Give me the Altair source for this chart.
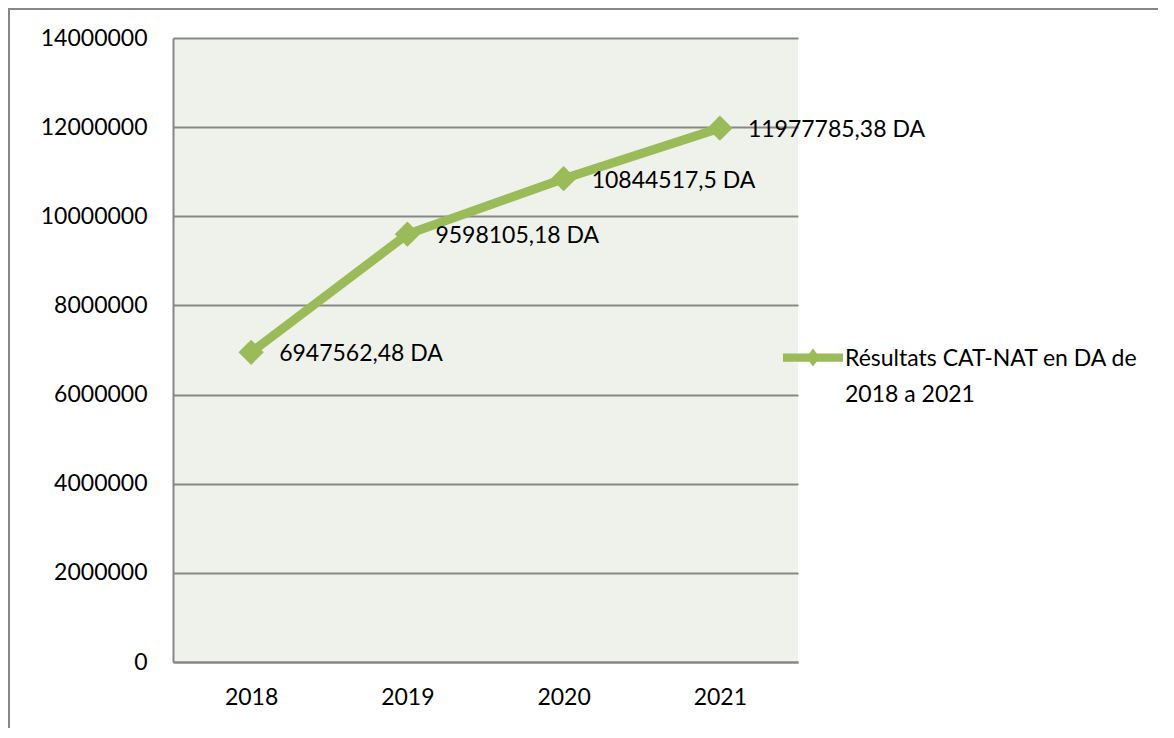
import altair as alt
import pandas as pd

years = ["2018", "2019", "2020", "2021"]
values = [6947562.48, 9598105.18, 10844517.5, 11977785.38]
value_labels = ["6947562,48 DA", "9598105,18 DA", "10844517,5 DA", "11977785,38 DA"]
series_name = "Résultats CAT-NAT en DA de 2018 a 2021"
legend_lines = ["Résultats CAT-NAT en DA de", "2018 a 2021"]
y_ticks = [0, 2000000, 4000000, 6000000, 8000000, 10000000, 12000000, 14000000]

df = pd.DataFrame({"year": years, "value": values, "label": value_labels,
                   "series": [series_name] * len(years)})

FONT = "Lato"
GREEN = "#9BBB59"
GRID = "#878787"
FS = 23

x_enc = alt.X("year:O", scale=alt.Scale(type="point", padding=0.5),
              axis=alt.Axis(title=None, labelAngle=0, ticks=False, grid=False,
                            domainColor=GRID, domainWidth=2, labelPadding=24,
                            labelFontSize=FS, labelFont=FONT, labelColor="black"))
y_enc = alt.Y("value:Q", scale=alt.Scale(domain=[0, 14000000], nice=False, zero=True),
              axis=alt.Axis(title=None, values=y_ticks, format="d", ticks=False,
                            grid=True, gridColor=GRID, gridWidth=2,
                            domainColor=GRID, domainWidth=2, labelPadding=26,
                            labelFontSize=FS, labelFont=FONT, labelColor="black"))

base = alt.Chart(df)

line = base.mark_line(color=GREEN, strokeWidth=9).encode(x=x_enc, y=y_enc)

legend_path = ("M-1,0.18 L1,0.18 L1,0.46 L-1,0.46 Z "
               "M0,0.02 L0.23,0.32 L0,0.62 L-0.23,0.32 Z")

points = base.mark_point(shape="diamond", filled=True, size=640, opacity=1).encode(
    x=x_enc, y=y_enc,
    color=alt.Color("series:N", scale=alt.Scale(range=[GREEN]),
                    legend=alt.Legend(title=None, orient="none", legendX=610, legendY=280,
                                      symbolType=legend_path, symbolSize=3600,
                                      symbolStrokeWidth=0, symbolOpacity=1,
                                      labelExpr=str(legend_lines),
                                      labelBaseline="top", labelOffset=2,
                                      labelFont=FONT, labelFontSize=FS,
                                      labelColor="black", labelLimit=500, padding=0)),
)

texts = base.mark_text(align="left", baseline="middle", dx=28, dy=2,
                       font=FONT, fontSize=FS, color="black").encode(
    x=x_enc, y=y_enc, text="label:N")

frame_top = alt.Chart(pd.DataFrame({"k": [0]})).mark_rule(color=GRID, strokeWidth=2).encode(
    x=alt.value(-165), x2=alt.value(995), y=alt.value(-29))
frame_left = alt.Chart(pd.DataFrame({"k": [0]})).mark_rule(color=GRID, strokeWidth=2).encode(
    x=alt.value(-164), y=alt.value(-30), y2=alt.value(700))

chart = alt.layer(frame_top, frame_left, line, points, texts).properties(
    width=625, height=624,
    padding={"left": 165, "top": 30, "right": 360, "bottom": 66},
    autosize=alt.AutoSizeParams(type="none"),
).configure(
    font=FONT,
    style={"guide-label": {"lineHeight": 36}},
).configure_view(fill="#EFF2EA", stroke=None)

chart.save("out.html", embed_options={"renderer": "svg", "actions": False})
